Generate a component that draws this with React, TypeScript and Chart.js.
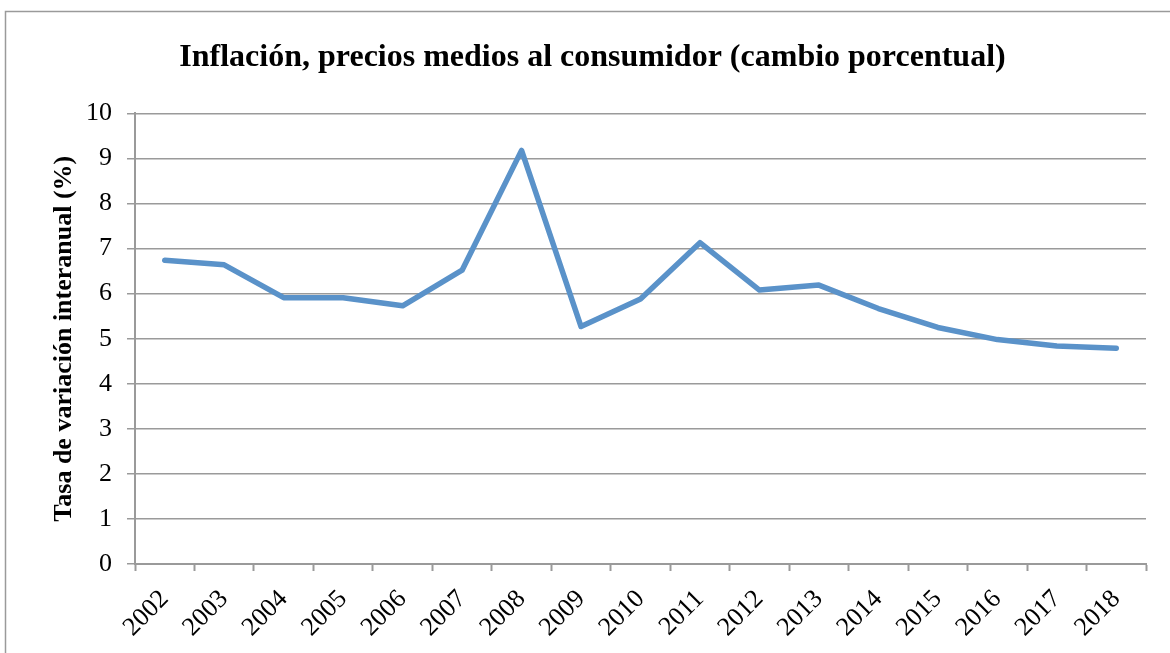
import React, { useEffect, useRef } from "react";
import { Chart, registerables } from "chart.js";

Chart.register(...registerables);

const years = ["2002","2003","2004","2005","2006","2007","2008","2009","2010","2011","2012","2013","2014","2015","2016","2017","2018"];
const inflation = [6.74, 6.64, 5.91, 5.91, 5.73, 6.52, 9.18, 5.27, 5.88, 7.13, 6.08, 6.19, 5.67, 5.25, 4.98, 4.84, 4.79];
const yTicks = [0, 1, 2, 3, 4, 5, 6, 7, 8, 9, 10];

const titleText = "Inflación, precios medios al consumidor (cambio porcentual)";
const yTitleText = "Tasa de variación interanual (%)";
const FONT = "'Liberation Serif', 'Times New Roman', serif";

const framePlugin = {
  id: "frame",
  beforeDraw(chart: any) {
    const ctx = chart.ctx;
    ctx.save();
    ctx.fillStyle = "#ffffff";
    ctx.fillRect(0, 0, chart.width, chart.height);
    ctx.strokeStyle = "#9a9a9a";
    ctx.lineWidth = 1.5;
    ctx.beginPath();
    ctx.moveTo(5.5, chart.height + 2);
    ctx.lineTo(5.5, 11.5);
    ctx.lineTo(chart.width + 2, 11.5);
    ctx.stroke();
    ctx.restore();
  },
};

export default function App() {
  const ref = useRef<HTMLCanvasElement | null>(null);
  useEffect(() => {
    if (!ref.current) return;
    const chart = new Chart(ref.current, {
      type: "line",
      data: {
        labels: years,
        datasets: [
          {
            data: inflation,
            borderColor: "rgb(90,146,201)",
            borderWidth: 5.5,
            pointRadius: 0,
            tension: 0,
            borderCapStyle: "round",
            borderJoinStyle: "round",
            fill: false,
          },
        ],
      },
      options: {
        responsive: false,
        animation: false,
        layout: { padding: { left: 39, right: 24, top: 0, bottom: 4 } },
        plugins: {
          legend: { display: false },
          tooltip: { enabled: false },
          title: {
            display: true,
            text: titleText,
            color: "#000",
            font: { family: FONT, size: 32, weight: "bold" },
            padding: { top: 39, bottom: 36 },
          },
        },
        scales: {
          x: {
            type: "category",
            offset: true,
            grid: {
              display: true,
              drawOnChartArea: false,
              drawTicks: true,
              offset: true,
              tickLength: 7,
              tickWidth: 2,
              tickColor: "#9a9a9a",
            },
            border: { display: true, color: "#9a9a9a", width: 2 },
            ticks: {
              color: "#000",
              font: { family: FONT, size: 26 },
              maxRotation: 45,
              minRotation: 45,
              padding: 13,
              autoSkip: false,
            },
            afterFit(scale: any) {
              scale.height = 85;
            },
          },
          y: {
            min: 0,
            max: 10,
            afterBuildTicks(scale: any) {
              scale.ticks = yTicks.map((v) => ({ value: v }));
            },
            grid: {
              color: "#9a9a9a",
              lineWidth: 1.5,
              tickLength: 8,
              tickColor: "#9a9a9a",
            },
            border: { display: true, color: "#9a9a9a", width: 2 },
            ticks: {
              color: "#000",
              font: { family: FONT, size: 26 },
              padding: 15,
            },
            title: {
              display: true,
              text: yTitleText,
              color: "#000",
              font: { family: FONT, size: 26, weight: "bold" },
              padding: { top: 10, bottom: 0 },
            },
            afterFit(scale: any) {
              scale.width = 96;
            },
          },
        },
      },
      plugins: [framePlugin],
    } as any);
    return () => chart.destroy();
  }, []);
  return (
    <div style={{ position: "absolute", left: 0, top: 0, width: 1170, height: 653 }}>
      <canvas ref={ref} width={1170} height={653} style={{ display: "block" }} />
    </div>
  );
}
